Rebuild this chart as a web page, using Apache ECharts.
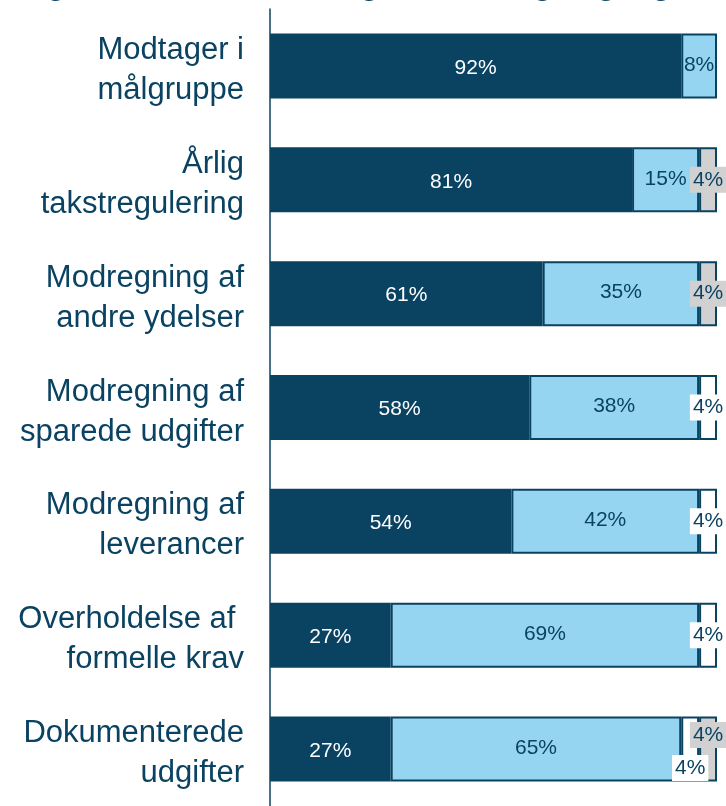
<!DOCTYPE html>
<html>
<head>
<meta charset="utf-8">
<script src="https://cdn.jsdelivr.net/npm/echarts@6/dist/echarts.min.js"></script>
<style>
html,body{margin:0;padding:0;background:#fff;}
#chart{width:726px;height:806px;}
</style>
</head>
<body>
<div id="chart"></div>
<script>
const titleText = "Opfølgende kontrol af betingelser i tilsagn og regnskab";
const categories = [
  "Modtager i\nmålgruppe",
  "Årlig\ntakstregulering",
  "Modregning af\nandre ydelser",
  "Modregning af\nsparede udgifter",
  "Modregning af\nleverancer",
  "Overholdelse af \nformelle krav",
  "Dokumenterede\nudgifter"
];
const seriesNames = ["Ja", "Delvist", "Nej", "Ved ikke"];
const valuesDark  = [92, 81, 61, 58, 54, 27, 27];
const valuesLight = [8, 15, 35, 38, 42, 69, 65];
const valuesWhite = [null, null, null, 4, 4, 4, 4];
const valuesGrey  = [null, 4, 4, null, null, null, 4];

const DARK = "#0a4262";
const LIGHT = "#96d5f1";
const GREY = "#d1d1d1";
const WHITE = "#ffffff";
const FONT = "'Liberation Sans', Arial, sans-serif";

function seg(name, values, color, label, extra) {
  return {
    name: name,
    type: "bar",
    stack: "total",
    barWidth: 65,
    data: values.map((v, i) => {
      const item = { value: v };
      if (extra && extra[i]) item.label = extra[i];
      return item;
    }),
    itemStyle: { color: color, borderColor: DARK, borderWidth: 2 },
    label: label
  };
}

const baseLabel = (color, dy) => ({
  show: true,
  position: "inside",
  formatter: "{c}%",
  color: color,
  fontFamily: FONT,
  fontSize: 21,
  offset: [0, dy]
});

const smallLabel = (bg) => ({
  show: true,
  position: "inside",
  formatter: "{c}%",
  color: DARK,
  fontFamily: FONT,
  fontSize: 21,
  backgroundColor: bg,
  padding: [3, 3, 2, 3]
});

const chart = echarts.init(document.getElementById("chart"), null, { renderer: "canvas" });
chart.setOption({
  animation: false,
  backgroundColor: "#ffffff",
  title: {
    text: titleText,
    left: "center",
    top: -33,
    textStyle: { fontFamily: FONT, fontSize: 30, fontWeight: "bold", color: DARK, lineHeight: 30 }
  },
  grid: { left: 270, top: 9, width: 447, height: 803, containLabel: false },
  xAxis: { type: "value", min: 0, max: 100, show: false },
  yAxis: {
    type: "category",
    data: categories,
    inverse: true,
    axisLine: { show: true, lineStyle: { color: DARK, width: 1.5 } },
    axisTick: { show: false },
    splitLine: { show: false },
    axisLabel: {
      color: DARK,
      margin: 26,
      align: "right",
      formatter: (v) => "{s| }\n" + v.split("\n").map((l) => "{a|" + l + "}").join("\n"),
      rich: {
        s: { fontSize: 4, lineHeight: 9, align: "right" },
        a: { fontFamily: FONT, fontSize: 31, lineHeight: 40, color: DARK, align: "right" }
      }
    }
  },
  series: [
    seg(seriesNames[0], valuesDark, DARK, baseLabel("#ffffff", 2)),
    seg(seriesNames[1], valuesLight, LIGHT, baseLabel(DARK, -1)),
    seg(seriesNames[2], valuesWhite, WHITE, smallLabel(WHITE), { 6: { offset: [0, 19] } }),
    seg(seriesNames[3], valuesGrey, GREY, smallLabel(GREY), { 6: { offset: [0, -14] } })
  ]
});
</script>
</body>
</html>
